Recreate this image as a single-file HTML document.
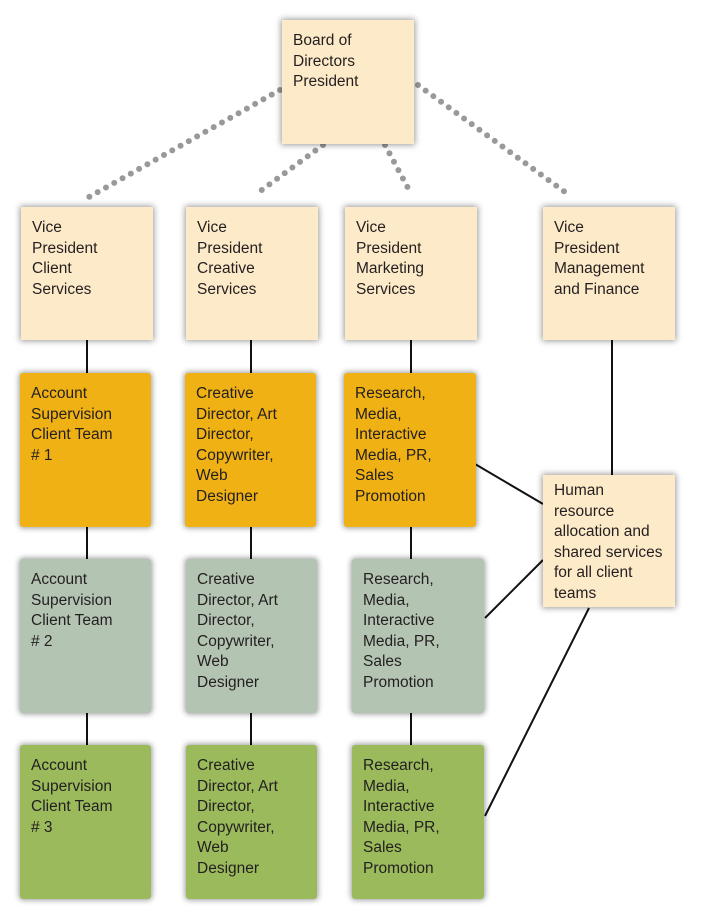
<!DOCTYPE html>
<html><head><meta charset="utf-8"><style>
body{margin:0;width:720px;height:921px;background:#fff;position:relative;overflow:hidden;font-family:"Liberation Sans",sans-serif;}
.b{position:absolute;box-sizing:border-box;padding:11px 0 0 11px;font-size:15.5px;line-height:20.5px;color:#231f20;box-shadow:0 0 6px 1px rgba(0,0,0,.4);}
.c{background:#fdeac8}.o{background:#efb114;border-radius:3px}.g{background:#b4c4b2;border-radius:3px}.v{background:#9aba5b;border-radius:3px}
svg{position:absolute;left:0;top:0}
</style></head><body>
<svg width="720" height="921">
<g stroke="#999" stroke-width="6" stroke-linecap="round" stroke-dasharray="0 9.5" fill="none">
<line x1="280" y1="90" x2="89" y2="197"/>
<line x1="323" y1="145" x2="255" y2="195"/>
<line x1="385" y1="145" x2="408" y2="188"/>
<line x1="418" y1="85" x2="569" y2="195"/>
</g>
<g stroke="#111" stroke-width="2" fill="none">
<line x1="87" y1="340" x2="87" y2="880"/>
<line x1="251" y1="340" x2="251" y2="880"/>
<line x1="411" y1="340" x2="411" y2="880"/>
<line x1="612" y1="340" x2="612" y2="476"/>
<line x1="475" y1="464" x2="543" y2="504"/>
<line x1="485" y1="618" x2="543" y2="560"/>
<line x1="485" y1="816" x2="589" y2="608"/>
</g>
</svg>
<div class="b c" style="left:282px;top:20px;width:132px;height:124px">Board of<br>Directors<br>President</div>
<div class="b c" style="left:21px;top:207px;width:132px;height:133px">Vice<br>President<br>Client<br>Services</div>
<div class="b c" style="left:186px;top:207px;width:132px;height:133px">Vice<br>President<br>Creative<br>Services</div>
<div class="b c" style="left:345px;top:207px;width:132px;height:133px">Vice<br>President<br>Marketing<br>Services</div>
<div class="b c" style="left:543px;top:207px;width:132px;height:133px">Vice<br>President<br>Management<br>and Finance</div>
<div class="b o" style="left:20px;top:373px;width:131px;height:154px">Account<br>Supervision<br>Client Team<br># 1</div>
<div class="b o" style="left:185px;top:373px;width:131px;height:154px">Creative<br>Director, Art<br>Director,<br>Copywriter,<br>Web<br>Designer</div>
<div class="b o" style="left:344px;top:373px;width:132px;height:154px">Research,<br>Media,<br>Interactive<br>Media, PR,<br>Sales<br>Promotion</div>
<div class="b c" style="left:543px;top:475px;width:132px;height:132px;padding-top:6px">Human<br>resource<br>allocation and<br>shared services<br>for all client<br>teams</div>
<div class="b g" style="left:20px;top:559px;width:131px;height:154px">Account<br>Supervision<br>Client Team<br># 2</div>
<div class="b g" style="left:186px;top:559px;width:131px;height:154px">Creative<br>Director, Art<br>Director,<br>Copywriter,<br>Web<br>Designer</div>
<div class="b g" style="left:352px;top:559px;width:132px;height:154px">Research,<br>Media,<br>Interactive<br>Media, PR,<br>Sales<br>Promotion</div>
<div class="b v" style="left:20px;top:745px;width:131px;height:154px">Account<br>Supervision<br>Client Team<br># 3</div>
<div class="b v" style="left:186px;top:745px;width:131px;height:154px">Creative<br>Director, Art<br>Director,<br>Copywriter,<br>Web<br>Designer</div>
<div class="b v" style="left:352px;top:745px;width:132px;height:154px">Research,<br>Media,<br>Interactive<br>Media, PR,<br>Sales<br>Promotion</div>
</body></html>
